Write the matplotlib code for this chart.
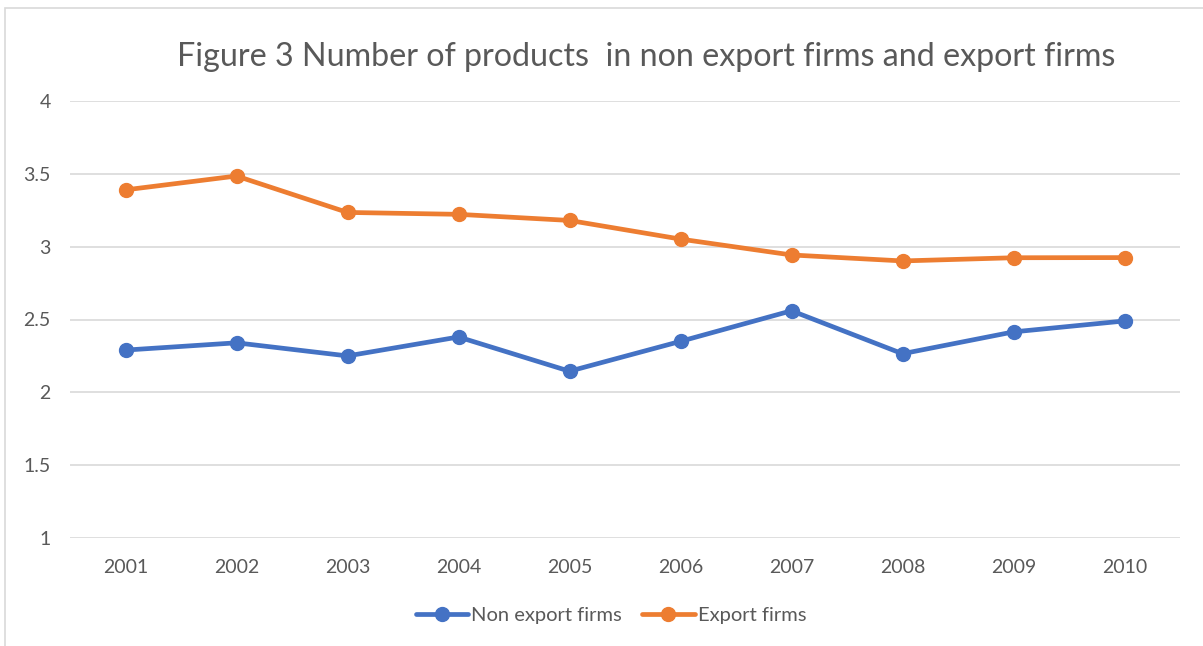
import matplotlib
matplotlib.use("Agg")
import matplotlib.pyplot as plt
from matplotlib.patches import Rectangle

years = ["2001", "2002", "2003", "2004", "2005", "2006", "2007", "2008", "2009", "2010"]
non_export = [2.29, 2.34, 2.25, 2.38, 2.145, 2.35, 2.56, 2.265, 2.415, 2.49]
export = [3.39, 3.485, 3.235, 3.222, 3.18, 3.052, 2.943, 2.902, 2.924, 2.925]
yticks = [1, 1.5, 2, 2.5, 3, 3.5, 4]
ytick_labels = ["1", "1.5", "2", "2.5", "3", "3.5", "4"]

W, H = 1203, 646
fig = plt.figure(figsize=(W / 100, H / 100), dpi=100)
plt.rcParams['font.family'] = ['Lato', 'DejaVu Sans']

# chart border
fig.patches.append(Rectangle((5 / W, -0.1), 1.2, (H - 8) / H + 0.1, transform=fig.transFigure,
                             fill=False, edgecolor="#D9D9D9", linewidth=1.2))

ax = fig.add_axes([70 / W, 1 - 538 / H, 1110 / W, 437 / H])
x = list(range(len(years)))
ax.plot(x, non_export, color="#4472C4", linewidth=3.4, marker="o", markersize=10,
        label="Non export firms", solid_capstyle="round")
ax.plot(x, export, color="#ED7D31", linewidth=3.4, marker="o", markersize=10,
        label="Export firms", solid_capstyle="round")

ax.set_xlim(-0.5, len(years) - 0.5)
ax.set_ylim(1, 4)
ax.set_yticks(yticks)
ax.set_yticklabels(ytick_labels)
ax.set_xticks(x)
ax.set_xticklabels(years)
ax.grid(axis="y", color="#D9D9D9", linewidth=1.2)
ax.set_axisbelow(True)
for s in ax.spines.values():
    s.set_visible(False)
ax.tick_params(axis="both", length=0, labelsize=14, colors="#595959")
ax.tick_params(axis="y", pad=14)
ax.tick_params(axis="x", pad=15)

fig.text(646 / W, 1 - 57 / H, "Figure 3 Number of products  in non export firms and export firms",
         ha="center", va="center", fontsize=23.2, color="#595959")

leg = fig.legend(loc="center", bbox_to_anchor=(611 / W, 1 - 615 / H), ncol=2, frameon=False,
                 fontsize=14.5, handlelength=2.6, columnspacing=1.0, handletextpad=0.15)
for t in leg.get_texts():
    t.set_color("#595959")

fig.savefig("out.png", dpi=100)
